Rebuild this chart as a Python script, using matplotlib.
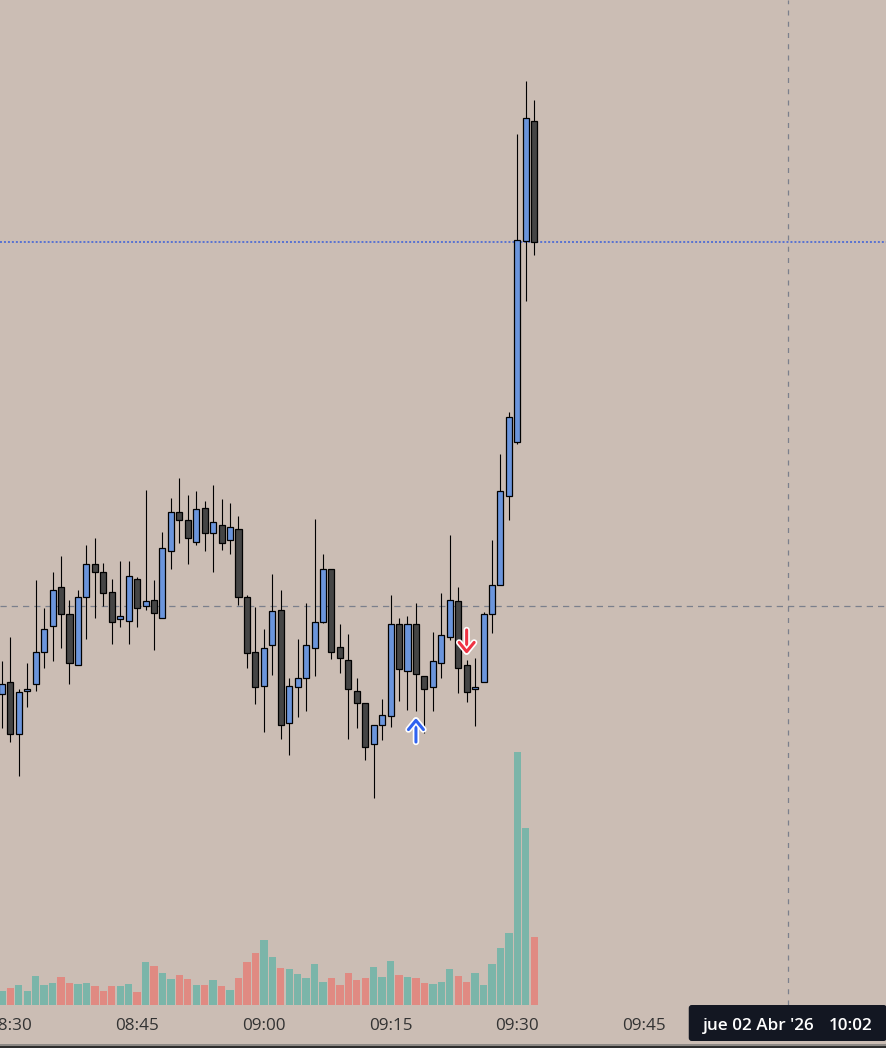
import matplotlib
matplotlib.use('Agg')
import matplotlib.pyplot as plt
import matplotlib.patheffects as pe
from matplotlib.patches import FancyBboxPatch, Rectangle
from matplotlib.transforms import blended_transform_factory
import pandas as pd

# ---------------- data (1-minute candles, from 08:29) ----------------
start_time = '08:29'
opens = [311, 323, 271, 314, 321, 353, 379, 418, 391, 340, 408, 441, 433, 413, 386, 384,
         426, 399, 405, 387, 454, 493, 485, 463, 497, 472, 480, 465, 476, 408, 353, 319,
         360, 395, 282, 318, 327, 357, 383, 436, 358, 345, 314, 302, 261, 280, 289, 381,
         334, 381, 329, 318, 342, 368, 404, 340, 316, 323, 391, 420, 509, 563, 764, 884]
highs = [344, 368, 316, 342, 425, 397, 433, 449, 405, 415, 460, 467, 442, 426, 444, 444,
         428, 515, 425, 473, 507, 527, 510, 514, 504, 520, 506, 502, 489, 410, 398, 376,
         431, 415, 327, 366, 402, 486, 451, 436, 381, 371, 327, 302, 280, 306, 410, 387,
         389, 402, 329, 373, 412, 470, 418, 345, 347, 393, 465, 551, 593, 871, 924, 905]
lows = [277, 263, 229, 298, 314, 337, 344, 357, 321, 340, 366, 387, 399, 361, 378, 361,
        378, 395, 355, 387, 436, 462, 441, 460, 454, 433, 455, 451, 400, 337, 301, 273,
        330, 266, 250, 288, 294, 329, 382, 346, 332, 266, 277, 245, 207, 265, 278, 304,
        295, 294, 272, 294, 327, 365, 312, 303, 279, 323, 372, 420, 485, 561, 704, 750]
closes = [321, 271, 313, 316, 353, 376, 415, 391, 342, 408, 441, 433, 412, 383, 389, 429,
          397, 404, 392, 457, 493, 485, 467, 496, 472, 483, 462, 478, 408, 352, 318, 357,
          394, 280, 319, 327, 360, 383, 436, 353, 347, 316, 302, 258, 280, 290, 381, 336,
          381, 331, 316, 344, 370, 405, 337, 313, 318, 391, 420, 514, 588, 765, 887, 763]
volumes = [14, 17, 20, 14, 29, 20, 22, 28, 22, 21, 22, 19, 14, 19, 19, 21,
           13, 43, 39, 32, 26, 30, 26, 20, 20, 25, 19, 15, 27, 43, 52, 65,
           48, 37, 36, 31, 27, 41, 23, 27, 20, 32, 25, 27, 38, 28, 44, 30,
           28, 27, 22, 21, 23, 36, 29, 23, 32, 20, 41, 57, 72, 253, 177, 68]

tick_labels = ['08:30', '08:45', '09:00', '09:15', '09:30', '09:45']
cross_time = '10:02'
cross_price = 399
date_label = "jue 02 Abr '26"
buy_signal = ('09:18', 287, 263)    # time, arrow tip, arrow tail
sell_signal = ('09:24', 351, 375)

# ---------------- styling ----------------
BG = '#cbbdb4'
UP_BODY = '#6b95dc'
DN_BODY = '#454545'
UP_VOL = '#7bb5a9'
DN_VOL = '#e08a82'
CROSS = '#7b7f8c'
LAST = '#3a5fd9'
FONT = 'Open Sans'

times = pd.date_range('2026-04-02 ' + start_time, periods=len(opens), freq='1min')
t0 = times[0]


def minute_pos(hhmm):
    t = pd.Timestamp('2026-04-02 ' + hhmm)
    return (t - t0).total_seconds() / 60.0


x = [(t - t0).total_seconds() / 60.0 for t in times]
up = [c >= o for o, c in zip(opens, closes)]

W, H = 887, 1048
fig = plt.figure(figsize=(W / 100, H / 100), dpi=100)
fig.patch.set_facecolor(BG)

rect = [0, 43 / H, 1, 1005 / H]
axv = fig.add_axes(rect)
ax = fig.add_axes(rect, sharex=axv)
axv.set_facecolor(BG)
ax.set_facecolor('none')
for a in (ax, axv):
    for s in a.spines.values():
        s.set_visible(False)
    a.tick_params(left=False, bottom=False, labelleft=False, labelbottom=False)

px = 8.45
ax.set_xlim(-1.9 / px, (W - 1.9) / px)
ax.set_ylim(0, 1005)
axv.set_ylim(0, 1005)

# volume
axv.bar(x, volumes, width=0.87, color=[UP_VOL if u else DN_VOL for u in up],
        linewidth=0, zorder=2)

# crosshair + last price line
ax.axhline(cross_price, color=CROSS, lw=0.9, ls=(0, (5, 4)), zorder=1)
ax.axvline(minute_pos(cross_time), color=CROSS, lw=0.9, ls=(0, (4, 5)), zorder=1)
ax.axhline(closes[-1], color=LAST, lw=1.1, ls=(0, (1.3, 1.3)), zorder=1)

# candles
ax.vlines(x, lows, highs, color='black', lw=0.8, zorder=3)
ax.bar(x, [max(abs(c - o), 1) for o, c in zip(opens, closes)],
       bottom=[min(o, c) for o, c in zip(opens, closes)], width=0.72,
       color=[UP_BODY if u else DN_BODY for u in up], edgecolor='black',
       linewidth=0.9, zorder=4)

# signal arrows
for (tm, tip, tail), col in ((buy_signal, '#2f62f0'), (sell_signal, '#ef3344')):
    xp = minute_pos(tm)
    ax.annotate('', xy=(xp, tip), xytext=(xp, tail),
                arrowprops=dict(arrowstyle='->,head_length=0.55,head_width=0.45',
                                color=col, lw=2.2, mutation_scale=12,
                                shrinkA=0, shrinkB=0,
                                path_effects=[pe.Stroke(linewidth=4.6, foreground='white'),
                                              pe.Normal()]),
                zorder=6)

# time labels
tr = blended_transform_factory(ax.transData, ax.transAxes)
for lab in tick_labels:
    ax.text(minute_pos(lab), -21.5 / 1005, lab, transform=tr, ha='center', va='center',
            fontsize=12.3, color='#333333', family=FONT, clip_on=False)

# overlay (pixel coordinates) for crosshair date box and bottom band
ov = fig.add_axes([0, 0, 1, 1], zorder=10)
ov.set_xlim(0, W)
ov.set_ylim(H, 0)
ov.axis('off')
ov.patch.set_alpha(0)
cx_pix = ax.transData.transform((minute_pos(cross_time), 0))[0]
ov.add_patch(FancyBboxPatch((cx_pix - 99, 1005), 198, 36,
                            boxstyle='round,pad=0,rounding_size=3',
                            facecolor='#131722', edgecolor='none'))
ov.text(cx_pix - 85, 1025.5, date_label, ha='left', va='center', fontsize=12.3,
        color='white', family=FONT, fontweight='semibold')
ov.text(cx_pix + 41, 1025.5, cross_time, ha='left', va='center', fontsize=12.3,
        color='white', family=FONT, fontweight='semibold')
ov.add_patch(Rectangle((0, 1043.5), W, 2.5, facecolor='#8d8985', edgecolor='none'))
ov.add_patch(Rectangle((0, 1046), W, 2.5, facecolor='#2e2e2e', edgecolor='none'))

fig.savefig('out.png', dpi=100, facecolor=BG)
